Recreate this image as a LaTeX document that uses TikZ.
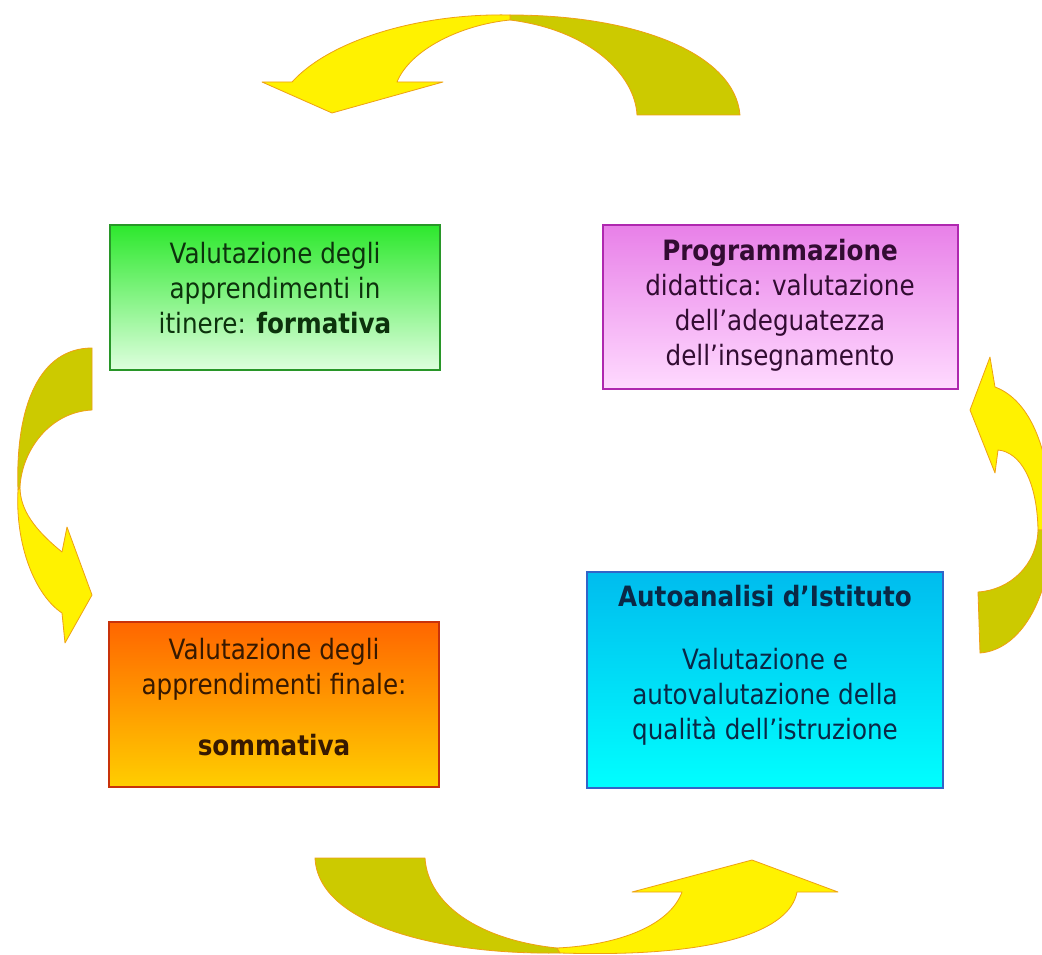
\documentclass[tikz,border=0pt]{standalone}
\usepackage{fontspec}
\setmainfont{DejaVu Sans}[FakeStretch=0.88]
\usetikzlibrary{shadings}
\definecolor{arlight}{RGB}{255,242,0}
\definecolor{ardark}{RGB}{204,202,0}
\definecolor{arline}{RGB}{238,160,20}
\definecolor{gtop}{RGB}{45,232,45}
\definecolor{gbot}{RGB}{222,255,222}
\definecolor{gline}{RGB}{40,150,40}
\definecolor{gtext}{RGB}{12,50,12}
\definecolor{mtop}{RGB}{232,128,232}
\definecolor{mbot}{RGB}{255,218,255}
\definecolor{mline}{RGB}{175,40,175}
\definecolor{mtext}{RGB}{50,12,50}
\definecolor{otop}{RGB}{255,102,0}
\definecolor{obot}{RGB}{255,206,0}
\definecolor{oline}{RGB}{200,50,10}
\definecolor{otext}{RGB}{55,25,0}
\definecolor{ctop}{RGB}{0,188,238}
\definecolor{cbot}{RGB}{0,255,255}
\definecolor{cline}{RGB}{50,100,200}
\definecolor{ctext}{RGB}{10,40,70}
\tikzset{
  box/.style={draw, line width=1.2pt},
  boxtext/.style={align=center, inner sep=0pt, font=\fontsize{28}{35}\selectfont},
  lightpart/.style={fill=arlight, draw=arline, line width=0.8pt, line join=round},
  darkpart/.style={fill=ardark, draw=arline, line width=0.8pt, line join=round}
}
\begin{document}
\begin{tikzpicture}[x=1pt,y=-1pt]
\useasboundingbox (0,0) rectangle (1042,955);
\path[clip] (0,0) rectangle (1042,955);
\fill[white] (0,0) rectangle (1042,955);

% boxes
\shade[box, draw=gline, top color=gtop, bottom color=gbot] (110,225) rectangle (440,370);
\shade[box, draw=mline, top color=mtop, bottom color=mbot] (603,225) rectangle (958,389);
\shade[box, draw=oline, top color=otop, bottom color=obot] (109,622) rectangle (439,787);
\shade[box, draw=cline, top color=ctop, bottom color=cbot] (587,572) rectangle (943,788);

\node[boxtext, text=gtext] (green) at (275,288)
  {Valutazione degli\\apprendimenti in\\itinere: \textbf{formativa}};
\node[boxtext, text=mtext] (magenta) at (780,305)
  {\textbf{Programmazione}\\didattica: valutazione\\dell’adeguatezza\\dell’insegnamento};
\node[boxtext, text=otext] (orange) at (274,697)
  {Valutazione degli\\apprendimenti finale:\\[26pt]\textbf{sommativa}};
\node[boxtext, text=ctext] (cyan) at (765,665)
  {\textbf{Autoanalisi d’Istituto}\\[28pt]Valutazione e\\autovalutazione della\\qualità dell’istruzione};

% top arrow
\path[darkpart] (740,115) .. controls (735,55) and (640,15) .. (510,15)
  -- (510,20) .. controls (590,30) and (635,75) .. (637,115) -- cycle;
\path[lightpart] (510,15) .. controls (420,13) and (330,40) .. (292,82)
  -- (262,82) -- (332,113) -- (443,82) -- (397,82)
  .. controls (410,50) and (460,25) .. (510,20) -- cycle;

% left arrow
\path[darkpart] (92,348) .. controls (40,348) and (15,405) .. (18,490)
  -- (20,487) .. controls (22,450) and (50,412) .. (92,410) -- cycle;
\path[lightpart] (18,490) .. controls (15,545) and (35,595) .. (62,613)
  -- (65,643) -- (92,595) -- (67,527) -- (62,552)
  .. controls (35,530) and (20,510) .. (20,487) -- cycle;

% right arrow
\path[lightpart] (998,450) -- (995,473) -- (970,410) -- (990,357) -- (995,387)
  .. controls (1030,400) and (1052,450) .. (1052,530)
  -- (1038,530) .. controls (1037,480) and (1020,452) .. (998,450) -- cycle;
\path[darkpart] (1038,530) .. controls (1037,565) and (1010,590) .. (978,592)
  -- (980,653) .. controls (1020,650) and (1050,600) .. (1052,530) -- cycle;

% bottom arrow
\path[darkpart] (315,858) .. controls (318,925) and (440,955) .. (560,953)
  -- (557,948) .. controls (480,940) and (428,905) .. (425,858) -- cycle;
\path[lightpart] (557,948) .. controls (620,945) and (670,925) .. (682,892)
  -- (632,892) -- (752,860) -- (838,892) -- (797,892)
  .. controls (790,930) and (720,958) .. (560,953) -- cycle;
\end{tikzpicture}
\end{document}
